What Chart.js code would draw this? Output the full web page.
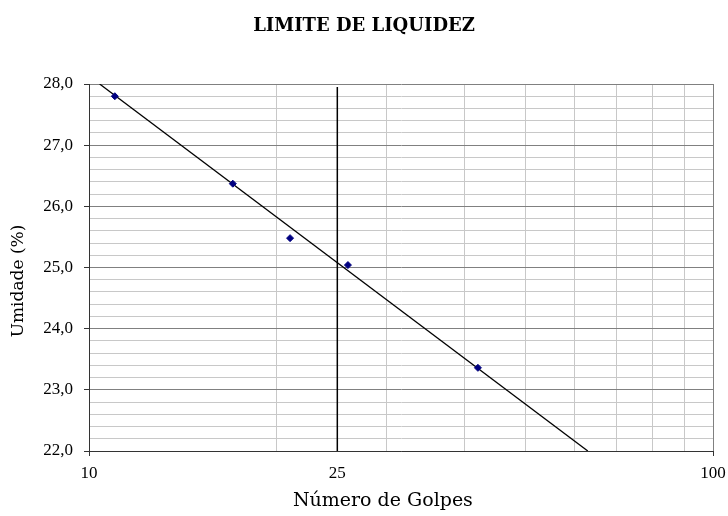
<!DOCTYPE html>
<html>
<head>
<meta charset="utf-8">
<script src="https://cdn.jsdelivr.net/npm/chart.js@4.4.1/dist/chart.umd.min.js"></script>
<style>
  html, body { margin: 0; padding: 0; background: #fff; }
  #wrap { width: 728px; height: 516px; }
</style>
</head>
<body>
<div id="wrap"><canvas id="myChart" width="728" height="516"></canvas></div>
<script>
// pontos do ensaio
const golpes = [11, 17, 21, 26, 42];
const umidade = [27.8, 26.37, 25.48, 25.04, 23.36];

// linha de tendencia
const trendGolpes = [10.4, 63.0];
const trendUmidade = [28.0, 22.0];

// linha vertical em 25 golpes
const limiteGolpes = [25, 25];
const limiteUmidade = [22.0, 27.95];

const xGridValues = [10, 20, 25, 30, 40, 50, 60, 70, 80, 90, 100];
const xLabelValues = [10, 25, 100];
const yMin = 22, yMax = 28, yStep = 0.2;

const serif = "'Liberation Serif', 'DejaVu Serif', serif";
const wideSerif = "'DejaVu Serif', serif";
const nbsp = '\u00A0';

function toPoints(xs, ys) {
    return xs.map((x, i) => ({ x: x, y: ys[i] }));
}

function isMajor(v) {
    return Math.abs(v - Math.round(v)) < 1e-6;
}

const ctx = document.getElementById('myChart');

new Chart(ctx, {
    type: 'scatter',
    data: {
        datasets: [
            {
                label: 'Tendencia',
                data: toPoints(trendGolpes, trendUmidade),
                showLine: true,
                borderColor: '#000',
                borderWidth: 1.3,
                pointRadius: 0,
                order: 2
            },
            {
                label: '25 golpes',
                data: toPoints(limiteGolpes, limiteUmidade),
                showLine: true,
                borderColor: '#000',
                borderWidth: 1.5,
                pointRadius: 0,
                order: 3
            },
            {
                label: 'Umidade',
                data: toPoints(golpes, umidade),
                pointStyle: 'rectRot',
                pointRadius: 3.5,
                backgroundColor: '#000080',
                borderColor: '#000080',
                borderWidth: 1,
                order: 1
            }
        ]
    },
    options: {
        responsive: false,
        animation: false,
        devicePixelRatio: 1,
        layout: {
            padding: { left: 0, right: 0, top: 0, bottom: 0 }
        },
        plugins: {
            legend: { display: false },
            tooltip: { enabled: false },
            title: {
                display: true,
                text: 'LIMITE DE LIQUIDEZ',
                color: '#000',
                font: { family: wideSerif, size: 18, weight: 'bold', lineHeight: 1.2 },
                padding: { top: 15.5, bottom: 46.9 }
            }
        },
        scales: {
            x: {
                type: 'logarithmic',
                min: 10,
                max: 100,
                afterBuildTicks: function (scale) {
                    scale.ticks = xGridValues.map(v => ({ value: v }));
                },
                afterFit: function (scale) {
                    scale.height = 65;
                    scale.paddingRight = 15;
                },
                border: { color: '#333', width: 1 },
                grid: {
                    color: function (c) {
                        if (c.tick.value === 100) return '#808080';
                        if (c.tick.value === 25) return 'rgba(0,0,0,0)';
                        return '#c8c8c8';
                    },
                    tickColor: function (c) {
                        return (c.tick.value === 10 || c.tick.value === 100) ? '#333' : 'rgba(0,0,0,0)';
                    },
                    tickLength: 5,
                    lineWidth: 1
                },
                ticks: {
                    autoSkip: false,
                    maxRotation: 0,
                    padding: 7,
                    color: '#000',
                    font: { family: serif, size: 17 },
                    callback: function (v) {
                        return xLabelValues.includes(v) ? String(v) : '';
                    }
                },
                title: {
                    display: true,
                    text: 'Número de Golpes' + nbsp.repeat(6),
                    color: '#000',
                    font: { family: wideSerif, size: 19 },
                    padding: { top: 0, bottom: 4 }
                }
            },
            y: {
                min: yMin,
                max: yMax,
                afterFit: function (scale) {
                    scale.width = 89;
                },
                border: { color: '#333', width: 1 },
                grid: {
                    color: function (c) {
                        return isMajor(c.tick.value) ? '#808080' : '#c8c8c8';
                    },
                    tickColor: function (c) {
                        return isMajor(c.tick.value) ? '#333' : 'rgba(0,0,0,0)';
                    },
                    tickLength: 5,
                    lineWidth: 1
                },
                ticks: {
                    stepSize: yStep,
                    maxTicksLimit: 50,
                    autoSkip: false,
                    padding: 11,
                    color: '#000',
                    font: { family: serif, size: 17 },
                    callback: function (v) {
                        return isMajor(v) ? v.toFixed(1).replace('.', ',') : '';
                    }
                },
                title: {
                    display: true,
                    text: 'Umidade (%)' + nbsp.repeat(5),
                    color: '#000',
                    font: { family: wideSerif, size: 17 },
                    padding: { top: 8, bottom: 0 }
                }
            }
        }
    }
});
</script>
</body>
</html>
